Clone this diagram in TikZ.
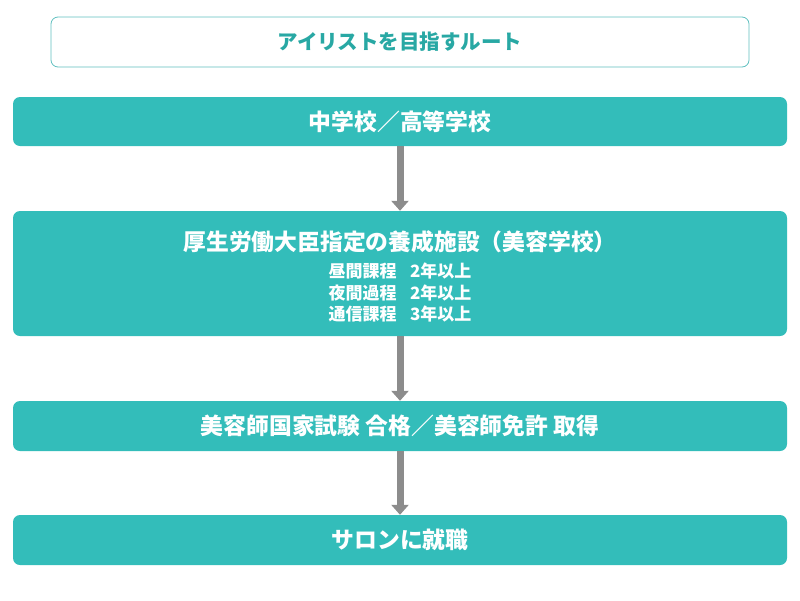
\documentclass[tikz,border=0pt]{standalone}
\usepackage{fontspec}
\newfontfamily\jp{Noto Sans CJK JP}
\usepackage{tikz}
\usetikzlibrary{arrows.meta,positioning}
\definecolor{routeteal}{RGB}{51,189,186}
\definecolor{titleteal}{RGB}{40,168,164}
\definecolor{titleedge}{RGB}{96,192,192}
\definecolor{flowgray}{RGB}{140,140,140}
\newcommand{\courseline}[2]{{\fontsize{17}{20}\selectfont #1\hspace{0.8em}#2}}

\begin{document}
\begin{tikzpicture}[x=1pt, y=-1pt,
  titlebox/.style={draw=titleedge, line width=0.8pt, rounded corners=7pt, fill=white,
    minimum width=698pt, minimum height=50pt, text=titleteal, font=\jp\bfseries\fontsize{20.5}{24}\selectfont},
  routebox/.style={fill=routeteal, rounded corners=7pt, minimum width=774pt, text=white,
    align=center, font=\jp\bfseries\fontsize{22.8}{26}\selectfont},
  flow/.style={draw=flowgray, line width=7pt, -{Triangle[width=17pt,length=10pt]}}]
\useasboundingbox (0,0) rectangle (800,600);
\node[titlebox] (route) at (400,42) {アイリストを目指すルート};
\node[routebox, minimum height=49pt] (school) at (400,121.5) {中学校／高等学校};
\node[routebox, minimum height=125pt] (academy) at (400,273.5) {\rule{0pt}{26pt}厚生労働大臣指定の養成施設（美容学校）\\[1pt]
  \courseline{昼間課程}{2年以上}\\[-4.5pt]
  \courseline{夜間過程}{2年以上}\\[-4.5pt]
  \courseline{通信課程}{3年以上}};
\node[routebox, minimum height=50pt] (license) at (400,426) {美容師国家試験 合格／美容師免許 取得};
\node[routebox, minimum height=50pt] (salon) at (400,540) {サロンに就職};
\draw[flow] (school) -- (academy);
\draw[flow] (academy) -- (license);
\draw[flow] (license) -- (salon);
\end{tikzpicture}
\end{document}
